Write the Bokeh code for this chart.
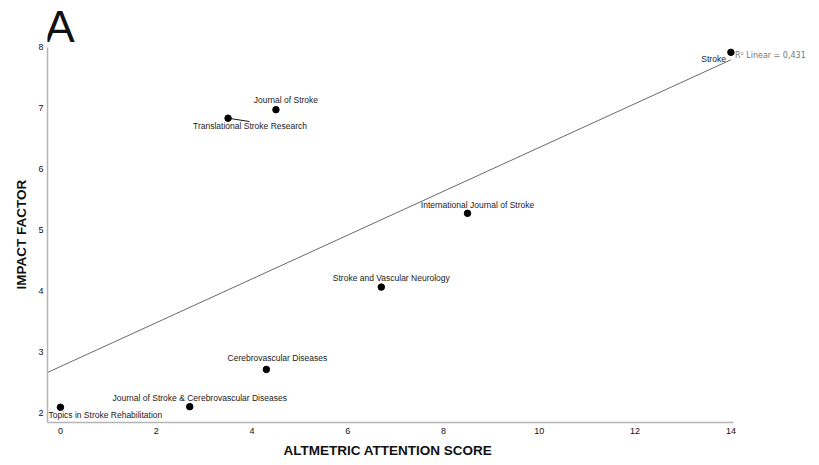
import numpy as np
from bokeh.plotting import figure
from bokeh.models import Range1d, FixedTicker, Label, Title
from bokeh.core.properties import value
from bokeh.embed import file_html
from bokeh.resources import INLINE

# Journals: Altmetric attention score vs. impact factor
journals = [
    "Stroke",
    "Journal of Stroke",
    "Translational Stroke Research",
    "International Journal of Stroke",
    "Stroke and Vascular Neurology",
    "Cerebrovascular Diseases",
    "Journal of Stroke & Cerebrovascular Diseases",
    "Topics in Stroke Rehabilitation",
]
altmetric = [14.0, 4.5, 3.5, 8.5, 6.7, 4.3, 2.7, 0.0]
impact = [7.92, 6.98, 6.84, 5.28, 4.07, 2.72, 2.11, 2.10]
x_ticks = [0, 2, 4, 6, 8, 10, 12, 14]
y_ticks = [2, 3, 4, 5, 6, 7, 8]
r2_text = "R\u00b2 Linear = 0,431"

# label placement per journal: (align, x offset px, y offset px)
label_style = {
    "Stroke": ("right", -5, 7),
    "Journal of Stroke": ("center", 10, -10),
    "Translational Stroke Research": ("center", 22, 8),
    "International Journal of Stroke": ("center", 10, -8),
    "Stroke and Vascular Neurology": ("center", 10, -9),
    "Cerebrovascular Diseases": ("center", 11, -11),
    "Journal of Stroke & Cerebrovascular Diseases": ("center", 10, -9),
    "Topics in Stroke Rehabilitation": ("left", -12, 8),
}

FONT = "Liberation Sans"
# axis spans; the plotting area runs past them so side texts are not clipped
x_lo, x_hi = -0.27, 14.05
y_lo, y_hi = 1.85, 8.0

p = figure(
    width=819, height=465,
    x_range=Range1d(x_lo, 15.85), y_range=Range1d(y_lo, 8.77),
    output_backend="svg", toolbar_location=None,
    min_border_left=47, min_border_right=0,
    min_border_top=0, min_border_bottom=43,
)
p.outline_line_color = None
p.xgrid.visible = False
p.ygrid.visible = False
p.background_fill_color = "white"
p.border_fill_color = "white"

for ax, ticks, bnds in ((p.xaxis[0], x_ticks, (x_lo, x_hi)),
                        (p.yaxis[0], y_ticks, (y_lo, y_hi))):
    ax.ticker = FixedTicker(ticks=ticks)
    ax.bounds = bnds
    ax.major_tick_line_color = None
    ax.minor_tick_line_color = None
    ax.major_tick_out = 0
    ax.major_tick_in = 0
    ax.minor_tick_out = 0
    ax.axis_line_color = "#b5b5b5"
    ax.axis_line_width = 1.5
    ax.major_label_text_font = FONT
    ax.major_label_text_font_size = "9px"
    ax.major_label_text_color = "#111111"

p.xaxis.major_label_standoff = 5
p.yaxis.major_label_standoff = 4

# axis titles, placed along the axis spans rather than the whole plotting area
p.add_layout(Title(text="ALTMETRIC ATTENTION SCORE", align="left", offset=236,
                   text_font=FONT, text_font_size="13.5px", text_font_style="bold",
                   text_color="#111111", standoff=9), "below")
p.add_layout(Title(text="IMPACT FACTOR", align="left", offset=133,
                   text_font=FONT, text_font_size="13.5px", text_font_style="bold",
                   text_color="#111111", standoff=13), "left")

# least-squares fit line across the axis span
slope, intercept = np.polyfit(altmetric, impact, 1)
fx = np.array([x_lo, max(altmetric)])
p.line(fx, slope * fx + intercept, line_color="#6a6a6a", line_width=1)

# leader from Translational Stroke Research to its label
i_tsr = journals.index("Translational Stroke Research")
p.segment(x0=[altmetric[i_tsr]], y0=[impact[i_tsr]],
          x1=[altmetric[i_tsr] + 0.45], y1=[impact[i_tsr] - 0.055],
          line_color="#111111", line_width=1)

p.scatter(altmetric, impact, size=6.5, fill_color="black", line_color="black")

for name, xv, yv in zip(journals, altmetric, impact):
    align, dx, dy = label_style[name]
    p.text([xv], [yv], text=[name], x_offset=dx, y_offset=dy,
           text_align=align, text_baseline="middle",
           text_font=value(FONT), text_font_size="8.5px", text_color="#1a1a1a")

p.text([max(altmetric)], [slope * max(altmetric) + intercept], text=[r2_text],
       x_offset=4, y_offset=-4, text_align="left", text_baseline="middle",
       text_font=value("DejaVu Sans"), text_font_size="8px", text_color="#777777")

p.add_layout(Label(x=-0.33, y=8.35, text="A", text_font=FONT, text_font_size="45px",
                   text_color="#111111", text_baseline="alphabetic"))

open("out.html", "w").write(file_html(p, INLINE))
